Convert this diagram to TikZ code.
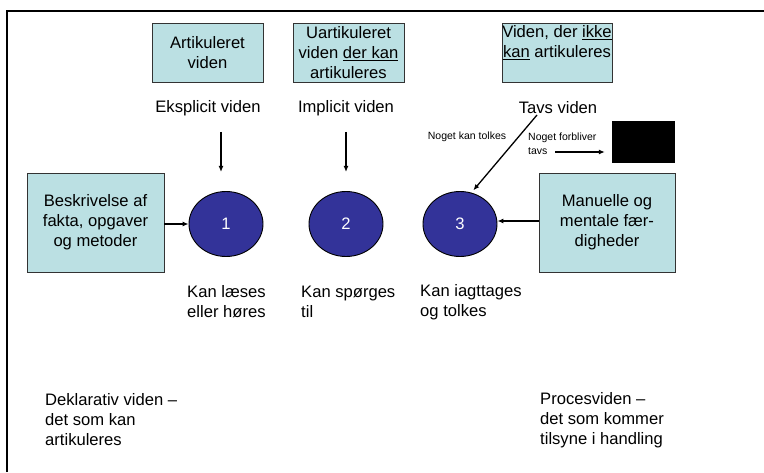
\documentclass[tikz,border=0pt]{standalone}
\usepackage{fontspec}
\setmainfont{Liberation Sans}
\usetikzlibrary{arrows.meta,shapes.geometric}
\definecolor{boxfill}{HTML}{BBE0E3}
\definecolor{dotfill}{HTML}{333399}
\tikzset{
  infobox/.style={draw=black!80, line width=0.9pt, fill=boxfill, inner sep=0pt,
    align=center, font=\fontsize{16.6}{20}\selectfont},
  dot/.style={ellipse, draw=black, line width=0.9pt, fill=dotfill, minimum width=74pt,
    minimum height=65pt, inner sep=0pt, text=white, font=\fontsize{16.6}{20}\selectfont},
  txt/.style={inner sep=0pt, font=\fontsize{16.6}{20}\selectfont},
  small/.style={inner sep=0pt, font=\fontsize{10.5}{14}\selectfont},
  arr/.style={line width=1.3pt, -{Latex[length=6pt,width=5pt]}},
  frame/.style={line width=2.5pt}
}
\begin{document}
\begin{tikzpicture}[x=1pt,y=1pt]
\useasboundingbox (0,0) rectangle (764,472);
% partial frame
\draw[frame] (7,0) -- (7,461) -- (764,461);

% top boxes
\node[infobox, minimum width=111pt, minimum height=59pt] (art) at (207.5,419.5) {Artikuleret\\viden};
\node[infobox, minimum width=111pt, minimum height=59pt] (uart) at (348.5,419.5) {Uartikuleret\\viden \underline{der kan}\\artikuleres};
\node[infobox, minimum width=110pt, minimum height=59pt] (ikke) at (557,419.5) {};
\node[txt, anchor=north, align=center] (ikketxt) at (557,447) {Viden, der \underline{ikke}\\\underline{kan} artikuleres};

% headings
\node[txt] (eks) at (208,364) {Eksplicit viden};
\node[txt] (imp) at (346,364) {Implicit viden};
\node[txt] (tavs) at (558,364) {Tavs viden};

% circles
\node[dot] (c1) at (226,248) {1};
\node[dot] (c2) at (346,248) {2};
\node[dot] (c3) at (460,248) {3};

% side boxes
\node[infobox, minimum width=137pt, minimum height=99pt] (besk) at (95.5,249.5) {Beskrivelse af\\fakta, opgaver\\og metoder};
\node[infobox, minimum width=136pt, minimum height=99pt] (manu) at (607,249.5) {Manuelle og\\mentale fær-\\digheder};

% black box
\node[fill=black, minimum width=63pt, minimum height=42pt, inner sep=0pt] (sort) at (643.5,330) {};

% small labels
\node[small] (tolk) at (467,335) {Noget kan tolkes};
\node[small, anchor=west, align=left] (forbl) at (528,328) {Noget forbliver\\tavs};

% arrows
\coordinate (d1s) at (221,340);
\coordinate (d1e) at (221,300);
\coordinate (d2s) at (346,340);
\coordinate (d2e) at (346,300);
\coordinate (ts) at (537,357);
\coordinate (fs) at (555,320);
\draw[arr] (d1s) -- (d1e);
\draw[arr] (d2s) -- (d2e);
\draw[arr, shorten >=3pt] (ts) -- (c3.70);
\draw[arr, shorten >=7pt] (fs) -- (sort.west |- fs);
\draw[arr] (besk.east |- c1) -- (c1.west);
\draw[arr] (manu.west |- 0,251) -- (c3.east |- 0,251);

% labels under circles
\node[txt, anchor=west, align=left] (l1) at (187,170) {Kan læses\\eller høres};
\node[txt, anchor=west, align=left] (l2) at (301,170) {Kan spørges\\til};
\node[txt, anchor=west, align=left] (l3) at (420,170) {Kan iagttages\\og tolkes};

% bottom notes
\node[txt, anchor=west, align=left] (dekl) at (45,52) {Deklarativ viden –\\det som kan\\artikuleres};
\node[txt, anchor=west, align=left] (proc) at (540,52) {Procesviden –\\det som kommer\\tilsyne i handling};
\end{tikzpicture}
\end{document}
